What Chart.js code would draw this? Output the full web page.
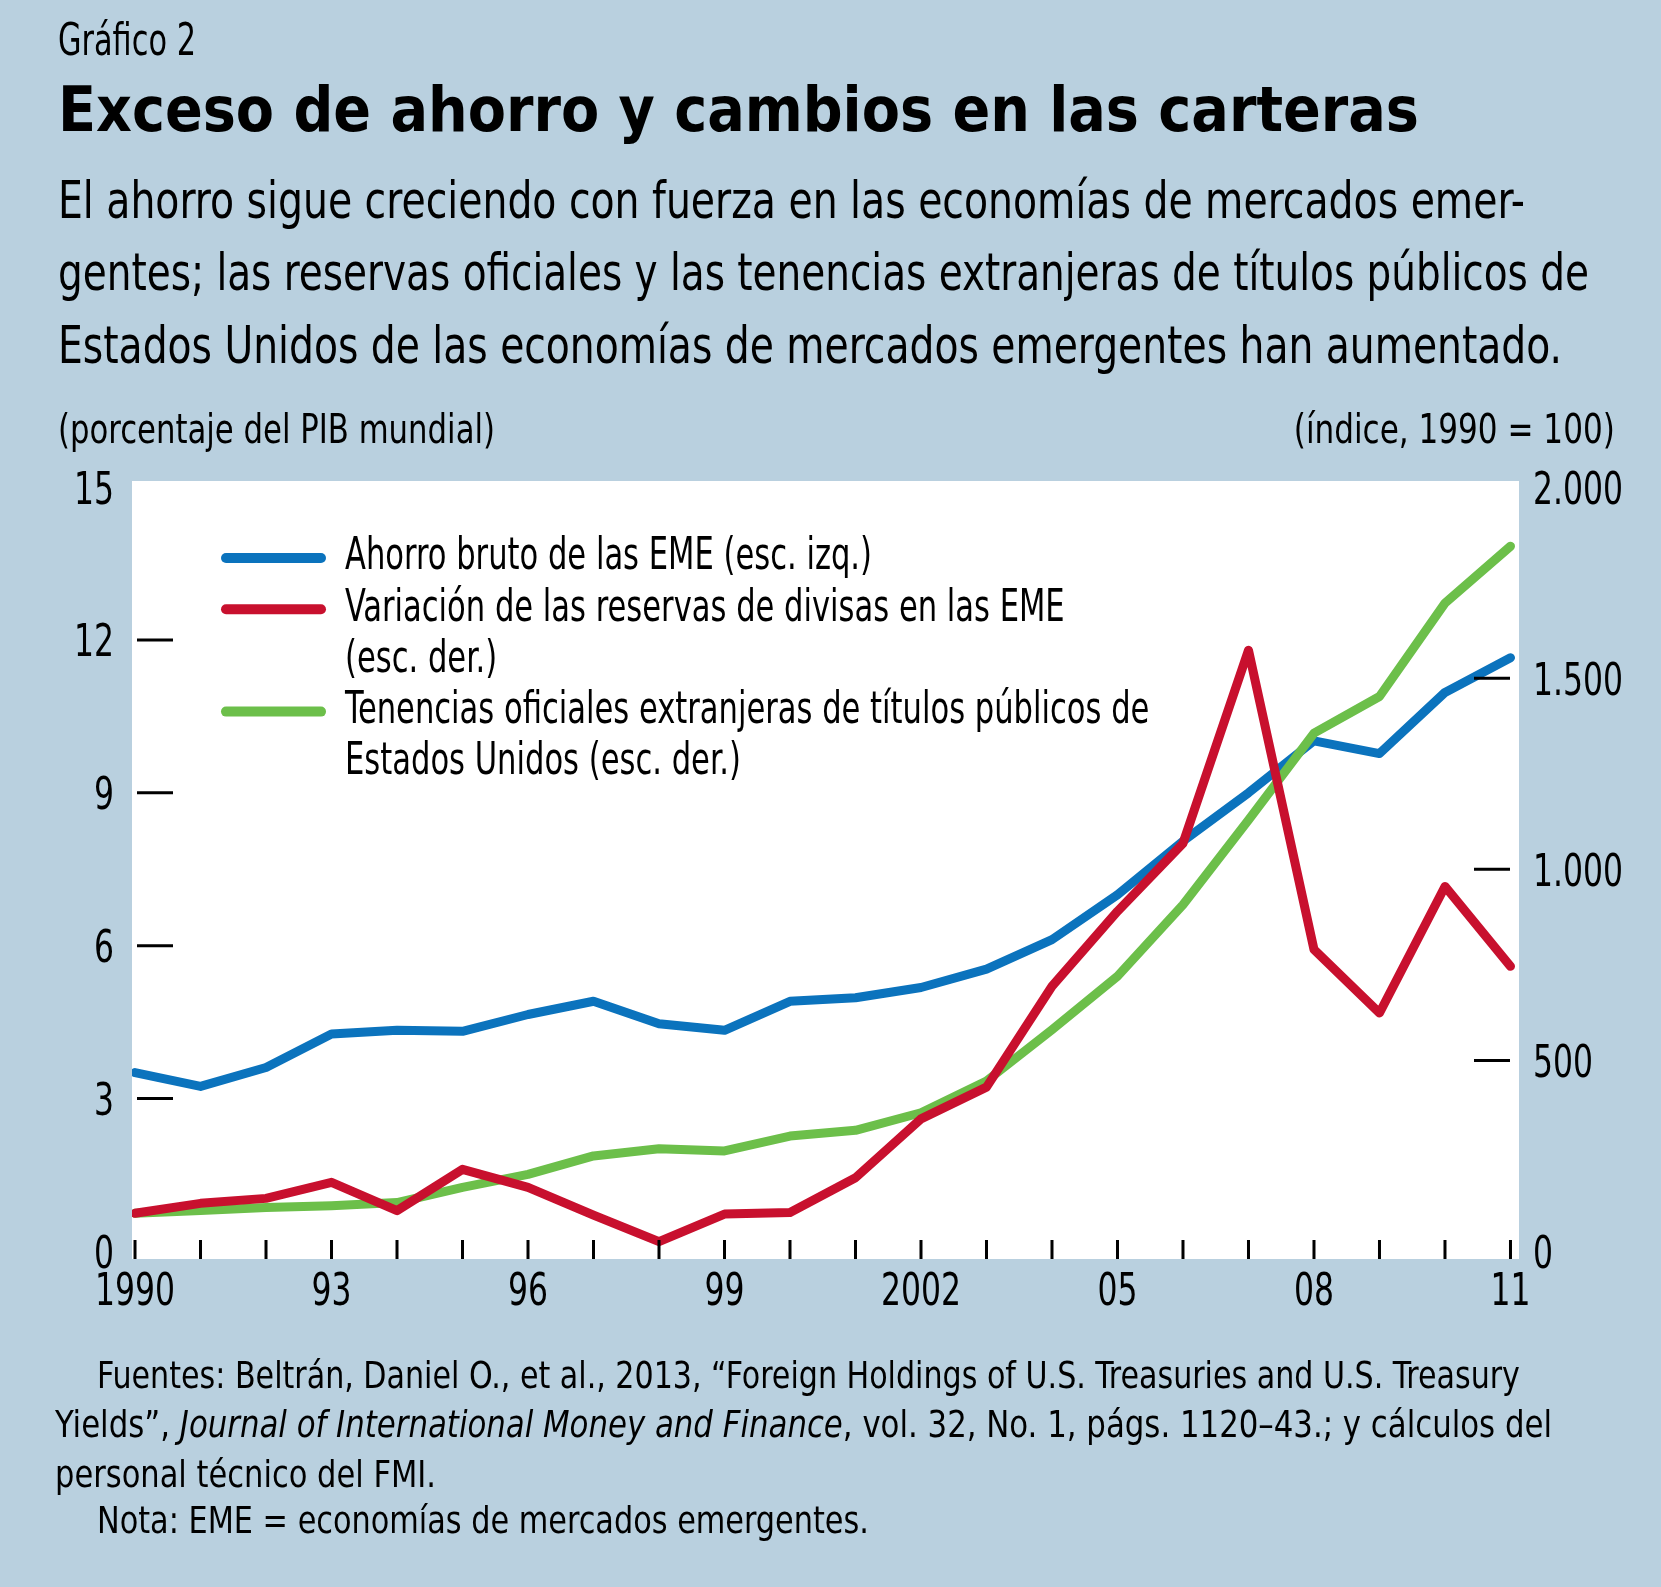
<!DOCTYPE html>
<html>
<head>
<meta charset="utf-8">
<script src="https://cdn.jsdelivr.net/npm/chart.js@4.4.1/dist/chart.umd.min.js"></script>
<style>
  html, body { margin: 0; padding: 0; }
  body {
    width: 1661px; height: 1587px; position: relative; overflow: hidden;
    background: #b9d0df; color: #000;
    font-family: 'DejaVu Sans Condensed', 'Liberation Sans Narrow', sans-serif;
  }
  #chart { position: absolute; left: 0; top: 0; }
  .txt { position: absolute; white-space: nowrap; line-height: 1; z-index: 2; transform-origin: left top; }
  #kicker { left: 58px; top: 17px; font-size: 45px; }
  #title { left: 58px; top: 78px; font-size: 63px; font-weight: bold; }
  .sub { left: 58px; font-size: 52px; }
  .unit { top: 409px; font-size: 40px; }
  #unitL { left: 58px; }
  #unitR { right: 46px; transform-origin: right top; }
  .note { font-size: 38px; }
</style>
</head>
<body>
<div class="txt" id="kicker" data-w="138">Gráfico 2</div>
<div class="txt" id="title" data-w="1361">Exceso de ahorro y cambios en las carteras</div>
<div class="txt sub" style="top:174px" data-w="1467">El ahorro sigue creciendo con fuerza en las economías de mercados emer-</div>
<div class="txt sub" style="top:246px" data-w="1531">gentes; las reservas oficiales y las tenencias extranjeras de títulos públicos de</div>
<div class="txt sub" style="top:319px" data-w="1504">Estados Unidos de las economías de mercados emergentes han aumentado.</div>
<div class="txt unit" id="unitL" data-w="437">(porcentaje del PIB mundial)</div>
<div class="txt unit" id="unitR" data-w="321">(índice, 1990 = 100)</div>
<div class="txt note" style="left:97px; top:1356px" data-w="1423">Fuentes: Beltrán, Daniel O., et al., 2013, “Foreign Holdings of U.S. Treasuries and U.S. Treasury</div>
<div class="txt note" style="left:55px; top:1405px" data-w="1497">Yields”, <i>Journal of International Money and Finance</i>, vol. 32, No. 1, págs. 1120–43.; y cálculos del</div>
<div class="txt note" style="left:55px; top:1455px" data-w="381">personal técnico del FMI.</div>
<div class="txt note" style="left:97px; top:1501px" data-w="772">Nota: EME = economías de mercados emergentes.</div>
<canvas id="chart" width="1661" height="1587"></canvas>
<script>
const YEARS = [1990, 1991, 1992, 1993, 1994, 1995, 1996, 1997, 1998, 1999, 2000,
               2001, 2002, 2003, 2004, 2005, 2006, 2007, 2008, 2009, 2010, 2011];
// Ahorro bruto de las EME, % del PIB mundial (eje izq.)
const AHORRO = [3.51, 3.24, 3.61, 4.27, 4.34, 4.32, 4.65, 4.91, 4.47, 4.34, 4.91,
                4.98, 5.18, 5.54, 6.12, 7.00, 8.05, 9.00, 10.02, 9.77, 10.97, 11.65];
// Variación de las reservas de divisas, índice 1990 = 100 (eje der.)
const RESERVAS = [100, 126, 139, 181, 107, 215, 168, 95, 26, 98, 102,
                  193, 347, 430, 694, 890, 1068, 1573, 790, 624, 955, 746];
// Tenencias oficiales extranjeras de títulos de EE.UU., índice 1990 = 100 (eje der.)
const TENENCIAS = [100, 107, 115, 120, 128, 168, 202, 250, 269, 263, 302,
                   317, 363, 446, 580, 720, 907, 1129, 1356, 1452, 1696, 1845];

const SERIES_LABELS = [
  ['Ahorro bruto de las EME (esc. izq.)'],
  ['Variación de las reservas de divisas en las EME', '(esc. der.)'],
  ['Tenencias oficiales extranjeras de títulos públicos de', 'Estados Unidos (esc. der.)']
];
const COLORS = ['#0b73bd', '#c8102e', '#6cbf4a'];

const X_TICKS = [1990, 1993, 1996, 1999, 2002, 2005, 2008, 2011];
const X_TICK_LABELS = ['1990', '93', '96', '99', '2002', '05', '08', '11'];
const LEFT_TICKS = [0, 3, 6, 9, 12, 15];
const RIGHT_TICKS = [0, 500, 1000, 1500, 2000];
const LEFT_MARKS = [3, 6, 9, 12];
const RIGHT_MARKS = [500, 1000, 1500];

const FONT = "'DejaVu Sans Condensed', 'Liberation Sans Narrow', sans-serif";

// squeeze html text lines to the widths of the narrow original typeface
document.querySelectorAll('[data-w]').forEach(el => {
  const w = el.getBoundingClientRect().width;
  el.style.transform = 'scaleX(' + (Number(el.dataset.w) / w).toFixed(4) + ')';
});

function points(values) {
  return YEARS.map((yr, i) => ({ x: yr, y: values[i] }));
}

function thousands(v) {
  return String(v).replace(/\B(?=(\d{3})+(?!\d))/g, '.');
}

// narrow text on the canvas: scale x only
function narrowText(ctx, text, x, y, sx, align) {
  const w = ctx.measureText(text).width * sx;
  let left = x;
  if (align === 'right') left = x - w;
  if (align === 'center') left = x - w / 2;
  ctx.save();
  ctx.translate(left, y);
  ctx.scale(sx, 1);
  ctx.textAlign = 'left';
  ctx.fillText(text, 0, 0);
  ctx.restore();
}

const decor = {
  id: 'decor',
  beforeDatasetsDraw(chart) {
    const { ctx, chartArea: a } = chart;
    ctx.save();
    ctx.fillStyle = '#ffffff';
    ctx.fillRect(a.left, a.top, a.right - a.left, a.bottom - a.top);
    ctx.restore();
  },
  afterDatasetsDraw(chart) {
    const { ctx, chartArea: a, scales } = chart;
    ctx.save();
    ctx.strokeStyle = '#000';
    ctx.lineWidth = 3;
    ctx.beginPath();
    YEARS.forEach(yr => {
      const x = scales.x.getPixelForValue(yr);
      ctx.moveTo(x, a.bottom);
      ctx.lineTo(x, a.bottom - 19);
    });
    LEFT_MARKS.forEach(v => {
      const y = scales.y.getPixelForValue(v);
      ctx.moveTo(a.left + 5, y);
      ctx.lineTo(a.left + 41, y);
    });
    RIGHT_MARKS.forEach(v => {
      const y = scales.y2.getPixelForValue(v);
      ctx.moveTo(a.right - 45, y);
      ctx.lineTo(a.right - 9, y);
    });
    ctx.stroke();

    // tick labels
    ctx.fillStyle = '#000';
    ctx.textBaseline = 'alphabetic';
    ctx.font = '45px ' + FONT;
    const sx = 80 / ctx.measureText('1990').width;
    const half = 16.5;
    scales.y.ticks.forEach(t => {
      narrowText(ctx, String(t.value), a.left - 18, scales.y.getPixelForValue(t.value) + half, sx, 'right');
    });
    scales.y2.ticks.forEach(t => {
      narrowText(ctx, thousands(t.value), a.right + 14, scales.y2.getPixelForValue(t.value) + half, sx, 'left');
    });
    scales.x.ticks.forEach(t => {
      const lbl = X_TICK_LABELS[X_TICKS.indexOf(t.value)];
      narrowText(ctx, lbl, scales.x.getPixelForValue(t.value), a.bottom + 46, sx, 'center');
    });

    // legend
    ctx.font = '44px ' + FONT;
    ctx.textBaseline = 'middle';
    const lsx = 527 / ctx.measureText(SERIES_LABELS[0][0]).width;
    ctx.lineCap = 'round';
    ctx.lineWidth = 10;
    let row = 0;
    const rowH = 51.2;
    chart.data.datasets.forEach((ds, i) => {
      const y0 = a.top + 77 + row * rowH;
      ctx.strokeStyle = ds.borderColor;
      ctx.beginPath();
      ctx.moveTo(a.left + 94, y0);
      ctx.lineTo(a.left + 189, y0);
      ctx.stroke();
      SERIES_LABELS[i].forEach((line, j) => {
        narrowText(ctx, line, a.left + 213, a.top + 77 + (row + j) * rowH, lsx, 'left');
      });
      row += SERIES_LABELS[i].length;
    });
    ctx.restore();
  }
};

function line(values, idx, axis, order) {
  return {
    label: SERIES_LABELS[idx].join(' '),
    data: points(values),
    yAxisID: axis,
    borderColor: COLORS[idx],
    backgroundColor: COLORS[idx],
    borderWidth: 9,
    borderCapStyle: 'round',
    borderJoinStyle: 'round',
    pointRadius: 0,
    tension: 0,
    fill: false,
    order: order
  };
}

const hiddenTicks = { display: false };

new Chart(document.getElementById('chart'), {
  type: 'line',
  data: {
    datasets: [
      line(AHORRO, 0, 'y', 2),
      line(RESERVAS, 1, 'y2', 0),
      line(TENENCIAS, 2, 'y2', 1)
    ]
  },
  options: {
    responsive: false,
    animation: false,
    events: [],
    layout: { padding: { top: 481, bottom: 268, left: 0, right: 0 } },
    plugins: { legend: { display: false }, tooltip: { enabled: false } },
    scales: {
      x: {
        type: 'linear',
        min: 1989.954,
        max: 2011.13,
        grid: { display: false, drawTicks: false },
        border: { display: false },
        afterBuildTicks: s => { s.ticks = X_TICKS.map(v => ({ value: v })); },
        afterFit: s => { s.height = 60; },
        ticks: hiddenTicks
      },
      y: {
        position: 'left',
        min: -0.147,
        max: 15.118,
        grid: { display: false, drawTicks: false },
        border: { display: false },
        afterBuildTicks: s => { s.ticks = LEFT_TICKS.map(v => ({ value: v })); },
        afterFit: s => { s.width = 132; },
        ticks: hiddenTicks
      },
      y2: {
        position: 'right',
        min: -19.6,
        max: 2015.7,
        grid: { display: false, drawTicks: false },
        border: { display: false },
        afterBuildTicks: s => { s.ticks = RIGHT_TICKS.map(v => ({ value: v })); },
        afterFit: s => { s.width = 142; },
        ticks: hiddenTicks
      }
    }
  },
  plugins: [decor]
});
</script>
</body>
</html>
